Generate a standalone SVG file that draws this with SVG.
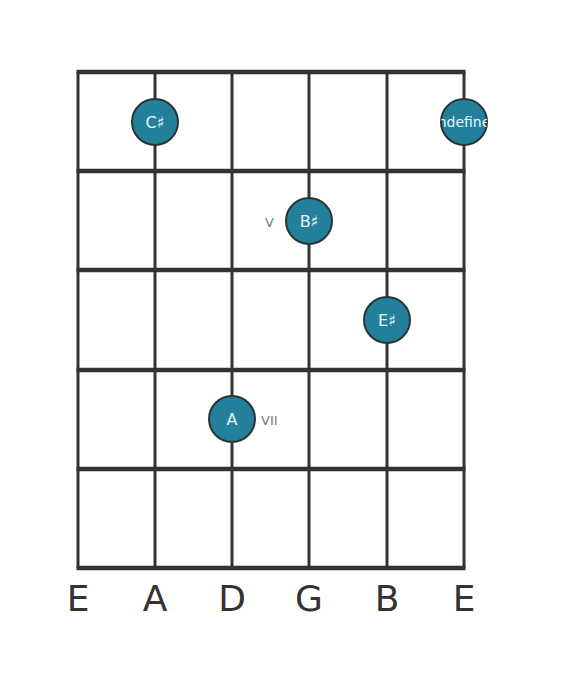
<svg xmlns="http://www.w3.org/2000/svg" width="573" height="682" viewBox="0 0 573 682">
<style>
.str{stroke:#333;stroke-width:3}
.fret{stroke:#333;stroke-width:4.5}
.note circle{fill:#23809b;stroke:#2a3436;stroke-width:2}
.note text{fill:#e8f5f8;font-family:"DejaVu Sans",sans-serif;font-size:16px;text-anchor:middle;dominant-baseline:central}
.lbl{fill:#777;font-family:"DejaVu Sans",sans-serif;font-size:13px;dominant-baseline:central}
.sname{fill:#333;font-family:"DejaVu Sans",sans-serif;font-size:36px;text-anchor:middle}
</style>
<defs><clipPath id="cu"><circle cx="464" cy="122" r="23"/></clipPath></defs>
<rect width="573" height="682" fill="#fff"/>
<g id="grid">
<line class="str" x1="78" y1="72" x2="78" y2="568"/>
<line class="str" x1="155" y1="72" x2="155" y2="568"/>
<line class="str" x1="232" y1="72" x2="232" y2="568"/>
<line class="str" x1="309" y1="72" x2="309" y2="568"/>
<line class="str" x1="387" y1="72" x2="387" y2="568"/>
<line class="str" x1="464" y1="72" x2="464" y2="568"/>
<line class="fret" x1="76.5" y1="72" x2="465.5" y2="72"/>
<line class="fret" x1="76.5" y1="171" x2="465.5" y2="171"/>
<line class="fret" x1="76.5" y1="270" x2="465.5" y2="270"/>
<line class="fret" x1="76.5" y1="370" x2="465.5" y2="370"/>
<line class="fret" x1="76.5" y1="469" x2="465.5" y2="469"/>
<line class="fret" x1="76.5" y1="568" x2="465.5" y2="568"/>
</g>
<g id="n1" class="note"><circle cx="155" cy="122" r="23"/><text x="155" y="122">C♯</text></g>
<g id="n2" class="note"><circle cx="464" cy="122" r="23"/><text x="464" y="122" clip-path="url(#cu)" style="font-size:14px">undefined</text></g>
<g id="n3" class="note"><circle cx="309" cy="221" r="23"/><text x="309" y="221">B♯</text></g>
<g id="n4" class="note"><circle cx="387" cy="320" r="23"/><text x="387" y="320">E♯</text></g>
<g id="n5" class="note"><circle cx="232" cy="419" r="23"/><text x="232" y="419">A</text></g>
<text class="lbl" x="265" y="222">V</text>
<text class="lbl" x="261" y="420">VII</text>
<g id="names">
<text class="sname" x="78" y="611">E</text>
<text class="sname" x="155" y="611">A</text>
<text class="sname" x="232" y="611">D</text>
<text class="sname" x="309" y="611">G</text>
<text class="sname" x="387" y="611">B</text>
<text class="sname" x="464" y="611">E</text>
</g>
</svg>
